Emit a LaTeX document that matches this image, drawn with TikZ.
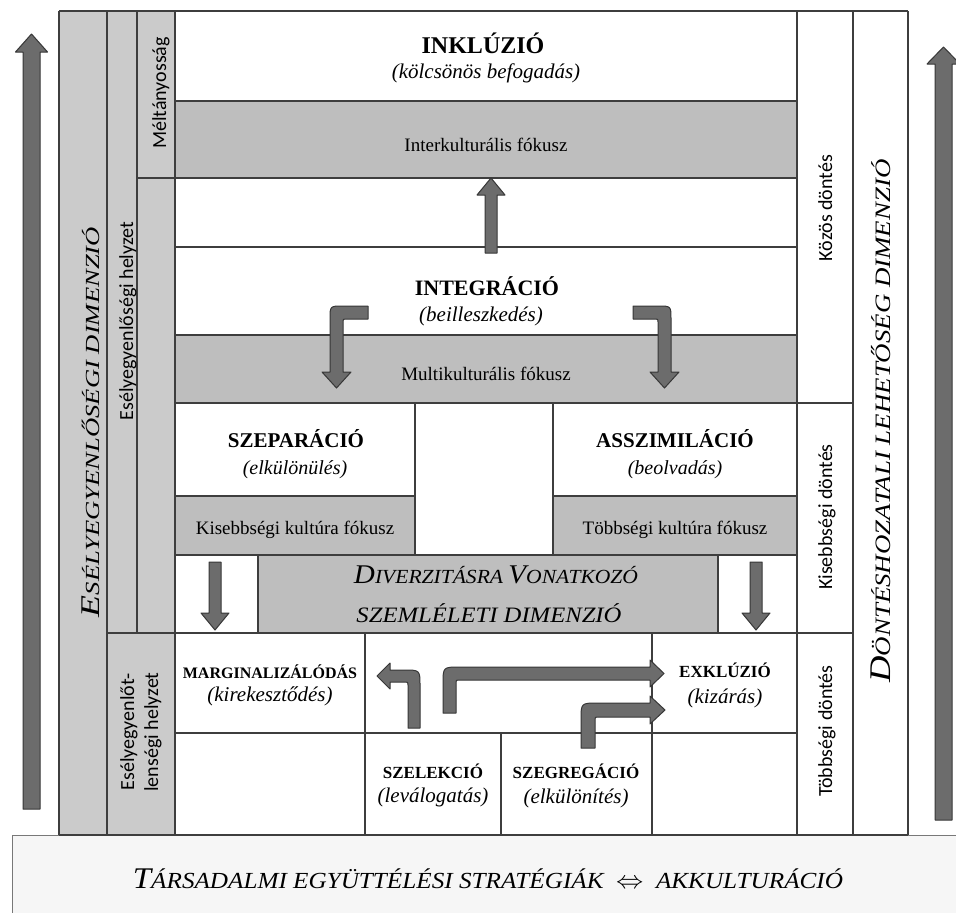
\documentclass[tikz,border=0pt]{standalone}
\usepackage{fontspec}
\usepackage{graphicx}
\setmainfont{Liberation Serif}
\newfontfamily\labfont{Carlito}
\newcommand{\setfz}[1]{\fontsize{#1}{#1}\selectfont}
\definecolor{bandgrey}{RGB}{190,190,190}
\definecolor{colgrey}{RGB}{203,203,203}
\definecolor{arrfill}{RGB}{108,108,108}
\definecolor{arrline}{RGB}{55,55,55}
\definecolor{lineclr}{RGB}{62,62,62}
\definecolor{bannerfill}{RGB}{246,246,246}
\definecolor{bannerline}{RGB}{120,120,120}
\begin{document}
\begin{tikzpicture}[x=1pt,y=-1pt,
  rule/.style={draw=lineclr, line width=1.1pt},
  bent/.style={fill=arrfill, draw=arrline, line width=1pt, line join=round},
  ttl/.style={anchor=base, inner sep=0pt, font=\bfseries\setfz{#1}},
  sub/.style={anchor=base, inner sep=0pt, font=\itshape\setfz{#1}},
  reg/.style={anchor=base, inner sep=0pt, font=\setfz{#1}},
  lab/.style={anchor=base, inner sep=0pt, rotate=90, font=\labfont\setfz{20}},
  vdim/.style={anchor=base, inner sep=0pt, rotate=90, font=\itshape},
]
\useasboundingbox (0,0) rectangle (956,913);
\clip (0,0) rectangle (956,913);
\fill[white] (0,0) rectangle (956,913);

% banner
\fill[bannerfill] (12,835) rectangle (975,930);
\draw[bannerline, line width=1pt] (12,930) -- (12,835) -- (975,835);

% grey fills
\fill[colgrey] (59,11) rectangle (175,835);
\fill[bandgrey] (175,101) rectangle (797,178);
\fill[bandgrey] (175,335) rectangle (797,403);
\fill[bandgrey] (175,496) rectangle (415,555);
\fill[bandgrey] (553,496) rectangle (797,555);
\fill[bandgrey] (258,555) rectangle (718,633);

% grid lines
\draw[rule] (59,11) -- (908,11);
\foreach \x in {59,107,175,797,853,908} \draw[rule] (\x,11) -- (\x,835);
\draw[rule] (137,11) -- (137,633);
\draw[rule] (175,101) -- (797,101);
\draw[rule] (137,178) -- (797,178);
\draw[rule] (175,247) -- (797,247);
\draw[rule] (175,335) -- (797,335);
\draw[rule] (175,403) -- (853,403);
\draw[rule] (175,496) -- (415,496);
\draw[rule] (553,496) -- (797,496);
\draw[rule] (175,555) -- (797,555);
\draw[rule] (107,633) -- (853,633);
\draw[rule] (175,733) -- (797,733);
\draw[rule] (415,403) -- (415,555);
\draw[rule] (553,403) -- (553,555);
\draw[rule] (258,555) -- (258,633);
\draw[rule] (718,555) -- (718,633);
\draw[rule] (365,633) -- (365,835);
\draw[rule] (501,733) -- (501,835);
\draw[rule] (652,633) -- (652,835);
\draw[rule] (59,835) -- (908,835);

% side arrows
\draw[bent] (23,809) -- (23,52) -- (15.5,52) -- (31.5,34) -- (47.5,52) -- (40,52) -- (40,809) -- cycle;
\draw[bent] (935,820) -- (935,64) -- (927,64) -- (943.5,47) -- (960,64) -- (952,64) -- (952,820) -- cycle;

% arrows in the middle
\draw[bent] (485,253) -- (485,195) -- (477,195) -- (491,178) -- (505,195) -- (497,195) -- (497,253) -- cycle;
\draw[bent] (368,306) -- (343,306) .. controls (330,306) .. (330,319) -- (330,372) -- (322,372) -- (336.5,388) -- (351,372) -- (343,372) -- (343,322) .. controls (343,319) .. (346,319) -- (368,319) -- cycle;
\draw[bent] (633,306) -- (658,306) .. controls (671,306) .. (671,319) -- (671,372) -- (679,372) -- (664.5,388) -- (650,372) -- (658,372) -- (658,322) .. controls (658,319) .. (655,319) -- (633,319) -- cycle;
\draw[bent] (209,562) -- (209,613) -- (201,613) -- (215,630) -- (229,613) -- (221,613) -- (221,562) -- cycle;
\draw[bent] (750,562) -- (750,613) -- (742,613) -- (756,630) -- (770,613) -- (762,613) -- (762,562) -- cycle;
\draw[bent] (420,728) -- (420,686) .. controls (420,670) .. (404,670) -- (390,670) -- (390,663) -- (377,676) -- (390,689) -- (390,682) -- (405,682) .. controls (408,682) .. (408,685) -- (408,728) -- cycle;
\draw[bent] (443,713) -- (443,684) .. controls (443,667) .. (460,667) -- (650,667) -- (650,660) -- (664,673.5) -- (650,687) -- (650,680) -- (459,680) .. controls (456,680) .. (456,683) -- (456,713) -- cycle;
\draw[bent] (581,748) -- (581,720) .. controls (581,703) .. (598,703) -- (650,703) -- (650,696) -- (665,710) -- (650,724) -- (650,717) -- (598,717) .. controls (595,717) .. (595,720) -- (595,748) -- cycle;

% texts main
\node[ttl=24] (inkl) at (483,53) {INKLÚZIÓ};
\node[sub=21] (inkls) at (486,78) {(kölcsönös befogadás)};
\node[reg=19] (interk) at (486,151) {Interkulturális fókusz};
\node[ttl=22] (integ) at (487,295) {INTEGRÁCIÓ};
\node[sub=21] (integs) at (481,321) {(beilleszkedés)};
\node[reg=19] (multik) at (486,380) {Multikulturális fókusz};
\node[ttl=21] (szep) at (296,447) {SZEPARÁCIÓ};
\node[sub=20] (szeps) at (295,474) {(elkülönülés)};
\node[ttl=21] (asszim) at (675,447) {ASSZIMILÁCIÓ};
\node[sub=20] (asszims) at (675,474) {(beolvadás)};
\node[reg=19] (kisebb) at (295,534) {Kisebbségi kultúra fókusz};
\node[reg=19] (tobbs) at (675,534) {Többségi kultúra fókusz};
\node[anchor=base, inner sep=0pt, font=\itshape] (div1) at (496,583) {\resizebox{284pt}{\height}{{\setfz{27}D}{\setfz{20}IVERZITÁSRA }{\setfz{27}V}{\setfz{20}ONATKOZÓ}}};
\node[anchor=base, inner sep=0pt, font=\itshape] (div2) at (489,622) {\resizebox{265pt}{\height}{\setfz{22}SZEMLÉLETI DIMENZIÓ}};
\node[ttl=16] (marg) at (270,678) {MARGINALIZÁLÓDÁS};
\node[sub=21] (margs) at (270,701) {(kirekesztődés)};
\node[ttl=17] (exkl) at (725,677) {EXKLÚZIÓ};
\node[sub=21] (exkls) at (725,703) {(kizárás)};
\node[ttl=17] (szel) at (433,778) {SZELEKCIÓ};
\node[sub=21] (szels) at (433,802) {(leválogatás)};
\node[ttl=17] (szeg) at (576,778) {SZEGREGÁCIÓ};
\node[sub=21] (szegs) at (576,803) {(elkülönítés)};
\node[anchor=base, inner sep=0pt, font=\itshape] (strat) at (488,888) {\resizebox{710pt}{\height}{{\setfz{30}T}{\setfz{23}ÁRSADALMI EGYÜTTÉLÉSI STRATÉGIÁK\ \ $\Leftrightarrow$\ \ AKKULTURÁCIÓ}}};

% vertical labels
\node[lab] (melt) at (166,93) {Méltányosság};
\node[lab] (eshelyz) at (133,321) {Esélyegyenlőségi helyzet};
\node[lab] (eslen1) at (134,732) {Esélyegyenlőt-};
\node[lab] (eslen2) at (158,732) {lenségi helyzet};
\node[lab] (kozos) at (832,208) {Közös döntés};
\node[lab] (kisebbd) at (832,517) {Kisebbségi döntés};
\node[lab] (tobbd) at (832,731) {Többségi döntés};
\node[vdim] (esdim) at (99,422) {\resizebox{390pt}{\height}{{\setfz{27}E}{\setfz{20}SÉLYEGYENLŐSÉGI DIMENZIÓ}}};
\node[vdim] (dodim) at (890,421) {\resizebox{523pt}{\height}{{\setfz{30}D}{\setfz{22}ÖNTÉSHOZATALI LEHETŐSÉG DIMENZIÓ}}};
\end{tikzpicture}
\end{document}
